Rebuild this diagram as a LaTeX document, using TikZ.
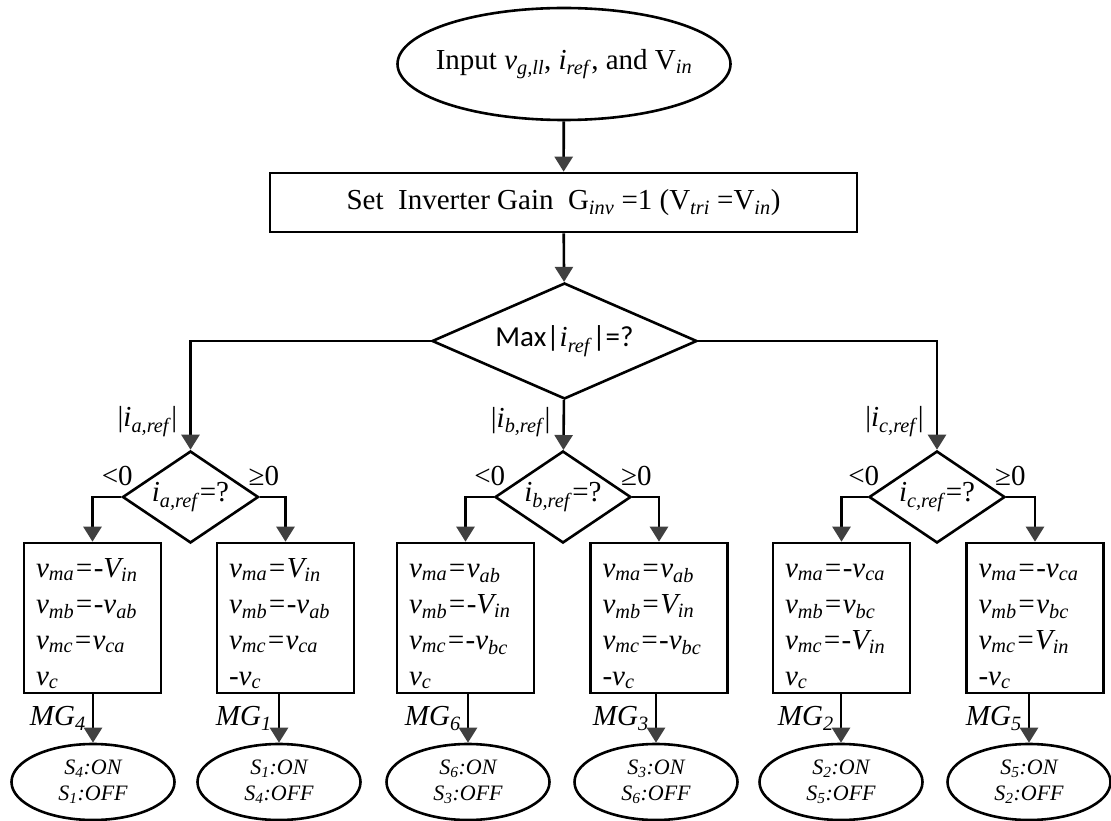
\documentclass[tikz,border=0pt]{standalone}
\usepackage{fontspec}
\setmainfont{Liberation Serif}
\newfontfamily\calibri{Carlito}
\usepackage{tikz}
\usetikzlibrary{shapes.geometric,arrows.meta}
\definecolor{ArrowGray}{HTML}{404040}
\newcommand{\isub}[1]{\textsubscript{\textit{#1}}}

\begin{document}
\begin{tikzpicture}[
      x=1pt, y=-1pt,
      every node/.style={font=\fontsize{29}{36}\selectfont, inner sep=2pt},
      startell/.style={draw, ellipse, line width=2.6pt, inner sep=0pt, minimum width=333pt, minimum height=112pt},
      gainbox/.style={draw, line width=2.6pt, inner sep=0pt, minimum width=587pt, minimum height=59pt},
      bigdia/.style={draw, diamond, aspect=2.28, line width=2.6pt, inner sep=0pt, minimum width=265pt, minimum height=116pt},
      smalldia/.style={draw, diamond, aspect=1.48, line width=2.6pt, inner sep=0pt, minimum width=136pt, minimum height=92pt},
      modebox/.style={draw, line width=2.6pt, inner ysep=0pt, inner xsep=12pt, text width=113pt, minimum height=150pt, align=left, font=\fontsize{29}{36}\selectfont\itshape, execute at begin node=\rule{0pt}{30pt}},
      switchell/.style={draw, ellipse, line width=2.6pt, inner sep=0pt, minimum width=163pt, minimum height=76pt, align=center, font=\fontsize{22}{26}\selectfont\itshape},
      arrow/.style={line width=2.6pt, -{Triangle[length=15pt, width=18pt, color=ArrowGray]}}
    ]
      \useasboundingbox (0,0) rectangle (1111,821);

      % Input and gain
      \node[startell] (start) at (564,64) {};
      \node (starttxt) at (start) {Input \textit{v}\isub{g,ll}, \textit{i}\isub{ref}, and V\isub{in}};
      \node[gainbox] (gain) at (563.5,202.5) {Set\ \ Inverter Gain\ \ G\isub{inv} =1 (V\isub{tri} =V\isub{in})};

      % Decisions
      \node[bigdia] (maxdia) at (564.5,341) {{\calibri Max|}\textit{i}\isub{ref}{\calibri |=?}};
      \node[smalldia] (diaa) at (190.5,497) {\textit{i}\isub{a,ref}=?};
      \node[smalldia] (diab) at (563,497) {\textit{i}\isub{b,ref}=?};
      \node[smalldia] (diac) at (937,497) {\textit{i}\isub{c,ref}=?};

      % Modulating signals
      \node[modebox] (boxa1) at (92.5,618) {v\isub{ma}=-V\isub{in}\\v\isub{mb}=-v\isub{ab}\\v\isub{mc}=v\isub{ca}\\v\isub{c}};
      \node[modebox] (boxa2) at (285.5,618) {v\isub{ma}=V\isub{in}\\v\isub{mb}=-v\isub{ab}\\v\isub{mc}=v\isub{ca}\\-v\isub{c}};
      \node[modebox] (boxb1) at (465.5,618) {v\isub{ma}=v\isub{ab}\\v\isub{mb}=-V\isub{in}\\v\isub{mc}=-v\isub{bc}\\v\isub{c}};
      \node[modebox] (boxb2) at (659,618) {v\isub{ma}=v\isub{ab}\\v\isub{mb}=V\isub{in}\\v\isub{mc}=-v\isub{bc}\\-v\isub{c}};
      \node[modebox] (boxc1) at (841.5,618) {v\isub{ma}=-v\isub{ca}\\v\isub{mb}=v\isub{bc}\\v\isub{mc}=-V\isub{in}\\v\isub{c}};
      \node[modebox] (boxc2) at (1035,618) {v\isub{ma}=-v\isub{ca}\\v\isub{mb}=v\isub{bc}\\v\isub{mc}=V\isub{in}\\-v\isub{c}};

      % Switch states
      \node[switchell] (sw4) at (93,782) {S\isub{4}:ON\\S\isub{1}:OFF};
      \node[switchell] (sw1) at (279,782) {S\isub{1}:ON\\S\isub{4}:OFF};
      \node[switchell] (sw6) at (468,782) {S\isub{6}:ON\\S\isub{3}:OFF};
      \node[switchell] (sw3) at (656,782) {S\isub{3}:ON\\S\isub{6}:OFF};
      \node[switchell] (sw2) at (841,782) {S\isub{2}:ON\\S\isub{5}:OFF};
      \node[switchell] (sw5) at (1029,782) {S\isub{5}:ON\\S\isub{2}:OFF};

      % Arrows
      \draw[arrow] (start) -- (gain);
      \draw[arrow] (gain) -- (maxdia);
      \draw[arrow] (maxdia.west) -| node[pos=0.87, left=10pt] {|\textit{i}\isub{a,ref}|} (diaa.north);
      \draw[arrow] (maxdia) -- node[pos=0.44, left=10pt] {|\textit{i}\isub{b,ref}|} (diab);
      \draw[arrow] (maxdia.east) -| node[pos=0.87, left=10pt] {|\textit{i}\isub{c,ref}|} (diac.north);

      \draw[arrow] (diaa.west) -| node[pos=0, above=8pt, xshift=-4pt] {<0} (boxa1.north);
      \draw[arrow] (diaa.east) -| node[pos=0, above=8pt, xshift=4pt] {≥0} (boxa2.north);
      \draw[arrow] (diab.west) -| node[pos=0, above=8pt, xshift=-4pt] {<0} (boxb1.north);
      \draw[arrow] (diab.east) -| node[pos=0, above=8pt, xshift=4pt] {≥0} (boxb2.north);
      \draw[arrow] (diac.west) -| node[pos=0, above=8pt, xshift=-4pt] {<0} (boxc1.north);
      \draw[arrow] (diac.east) -| node[pos=0, above=8pt, xshift=4pt] {≥0} (boxc2.north);

      \draw[arrow] (sw4.north |- boxa1.south) -- node[left=4pt] {\textit{MG}\isub{4}} (sw4.north);
      \draw[arrow] (sw1.north |- boxa2.south) -- node[left=4pt] {\textit{MG}\isub{1}} (sw1.north);
      \draw[arrow] (sw6.north |- boxb1.south) -- node[left=4pt] {\textit{MG}\isub{6}} (sw6.north);
      \draw[arrow] (sw3.north |- boxb2.south) -- node[left=4pt] {\textit{MG}\isub{3}} (sw3.north);
      \draw[arrow] (sw2.north |- boxc1.south) -- node[left=4pt] {\textit{MG}\isub{2}} (sw2.north);
      \draw[arrow] (sw5.north |- boxc2.south) -- node[left=4pt] {\textit{MG}\isub{5}} (sw5.north);

    \end{tikzpicture}
\end{document}
